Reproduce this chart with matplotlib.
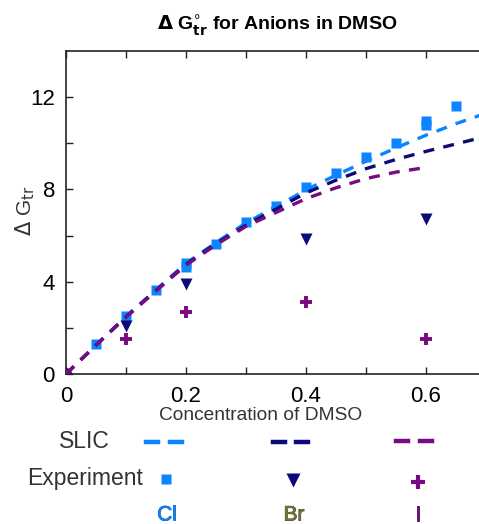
import matplotlib
matplotlib.use("Agg")
import matplotlib.pyplot as plt
import matplotlib.patheffects as pe
from matplotlib.lines import Line2D

plt.rcParams['font.family'] = ['Liberation Sans', 'DejaVu Sans']

# Experimental data
cl_x = [0.0, 0.05, 0.1, 0.15, 0.2, 0.2, 0.25, 0.3, 0.35, 0.4, 0.45, 0.5, 0.55, 0.6, 0.6, 0.65]
cl_y = [0.0, 1.3, 2.5, 3.65, 4.62, 4.8, 5.65, 6.6, 7.3, 8.1, 8.72, 9.42, 10.02, 10.8, 10.95, 11.62]
br_x = [0.0, 0.1, 0.2, 0.4, 0.6]
br_y = [0.0, 2.1, 3.9, 5.85, 6.7]
i_x = [0.0, 0.1, 0.2, 0.4, 0.6]
i_y = [0.0, 1.52, 2.68, 3.1, 1.5]

# SLIC model curves
slic_x = [0.0, 0.05, 0.1, 0.15, 0.2, 0.25, 0.3, 0.35, 0.4, 0.45, 0.5, 0.55, 0.6, 0.65, 0.7]
slic_cl = [0.0, 1.25, 2.5, 3.65, 4.8, 5.7, 6.55, 7.25, 7.98, 8.62, 9.22, 9.8, 10.35, 10.85, 11.3]
slic_br = [0.0, 1.25, 2.48, 3.62, 4.75, 5.65, 6.45, 7.15, 7.85, 8.4, 8.9, 9.3, 9.65, 9.97, 10.3]
slic_i_x = [0.0, 0.05, 0.1, 0.15, 0.2, 0.25, 0.3, 0.35, 0.4, 0.45, 0.5, 0.55, 0.6]
slic_i = [0.0, 1.25, 2.46, 3.6, 4.72, 5.6, 6.4, 7.0, 7.6, 8.07, 8.47, 8.75, 8.95]

c_cl = '#0a84ff'
c_br = '#0a0a78'
c_i = '#7a0a7f'

W, H = 479, 524
fig = plt.figure(figsize=(W / 100, H / 100), dpi=100)
ax = fig.add_axes([66 / W, (H - 374) / H, 420 / W, (374 - 51) / H])

dash = (0, (3.3, 2.8))
ax.plot(slic_x, slic_cl, color=c_cl, lw=2.4, linestyle=dash, zorder=3)
ax.plot(slic_x, slic_br, color=c_br, lw=2.4, linestyle=dash, zorder=3)
ax.plot(slic_i_x, slic_i, color=c_i, lw=2.4, linestyle=dash, zorder=3)

ax.plot(cl_x, cl_y, 's', color=c_cl, ms=7, mec='none', zorder=2)
ax.plot(br_x, br_y, 'v', color=c_br, ms=9, mec='none', zorder=2)
ax.plot(i_x, i_y, '+', color=c_i, ms=9, mew=2.8, zorder=2)

ax.set_xlim(0, 0.7)
ax.set_ylim(0, 14)
ax.set_xticks([0, 0.1, 0.2, 0.3, 0.4, 0.5, 0.6])
ax.set_xticklabels(['0', '', '0.2', '', '0.4', '', '0.6'])
ax.set_yticks([0, 2, 4, 6, 8, 10, 12])
ax.set_yticklabels(['0', '', '4', '', '8', '', '12'])
ax.tick_params(direction='in', length=5, width=1, labelsize=16, top=True, colors='#222222')
ax.tick_params(axis='x', pad=8.5)
ax.tick_params(axis='y', pad=8)
for lbl in ax.get_xticklabels() + ax.get_yticklabels():
    lbl.set_color('black')
for s in ['left', 'bottom', 'top']:
    ax.spines[s].set_linewidth(1.2)
    ax.spines[s].set_color('#222222')
ax.spines['right'].set_visible(False)

ax.set_xlabel('Concentration of DMSO', fontsize=13.8, color='#333333', va='center')
ax.xaxis.set_label_coords((261 - 66) / 420, (374 - 416) / 323)
ax.set_ylabel(r'$\Delta$ G$_{\mathrm{tr}}$', fontsize=15, color='#333333', va='center')
ax.yaxis.set_label_coords((25 - 66) / 420, (374 - 211) / 323)
fig.text(277 / W, 1 - 26 / H, r'$\mathbf{\Delta}$ G$_{\mathbf{tr}}^{\circ}$ for Anions in DMSO',
         ha='center', va='center', fontsize=14, fontweight='bold')

# Custom legend
def fy(y):
    return 1 - y / H

fig.text(84 / W, fy(442), 'SLIC', ha='center', va='center', fontsize=16.5, color='#333333')
fig.text(85 / W, fy(478), 'Experiment', ha='center', va='center', fontsize=16.5, color='#333333')

for (x0, x1, y, c) in [(146, 182, 442, c_cl), (273, 308, 442, c_br), (396, 432, 441, c_i)]:
    fig.add_artist(Line2D([x0 / W, (x0 + 12) / W], [fy(y), fy(y)], color=c, lw=3.2, transform=fig.transFigure))
    fig.add_artist(Line2D([(x1 - 12) / W, x1 / W], [fy(y), fy(y)], color=c, lw=3.2, transform=fig.transFigure))

fig.add_artist(Line2D([166 / W], [fy(479)], marker='s', color=c_cl, ms=7, mec='none', transform=fig.transFigure))
fig.add_artist(Line2D([293 / W], [fy(480)], marker='v', color=c_br, ms=10, mec='none', transform=fig.transFigure))
fig.add_artist(Line2D([418 / W], [fy(482)], marker='+', color=c_i, ms=10, mew=3, transform=fig.transFigure))

for (x, lbl, fc, oc) in [(167, 'Cl', c_cl, '#0a3a90'), (294, 'Br', '#7a7a10', c_br), (418, 'I', c_i, '#200020')]:
    fig.text(x / W, fy(515), lbl, ha='center', va='center', fontsize=15, color=fc,
             path_effects=[pe.Stroke(linewidth=0.5, foreground=oc), pe.Normal()])

fig.savefig('out.png', dpi=100)
